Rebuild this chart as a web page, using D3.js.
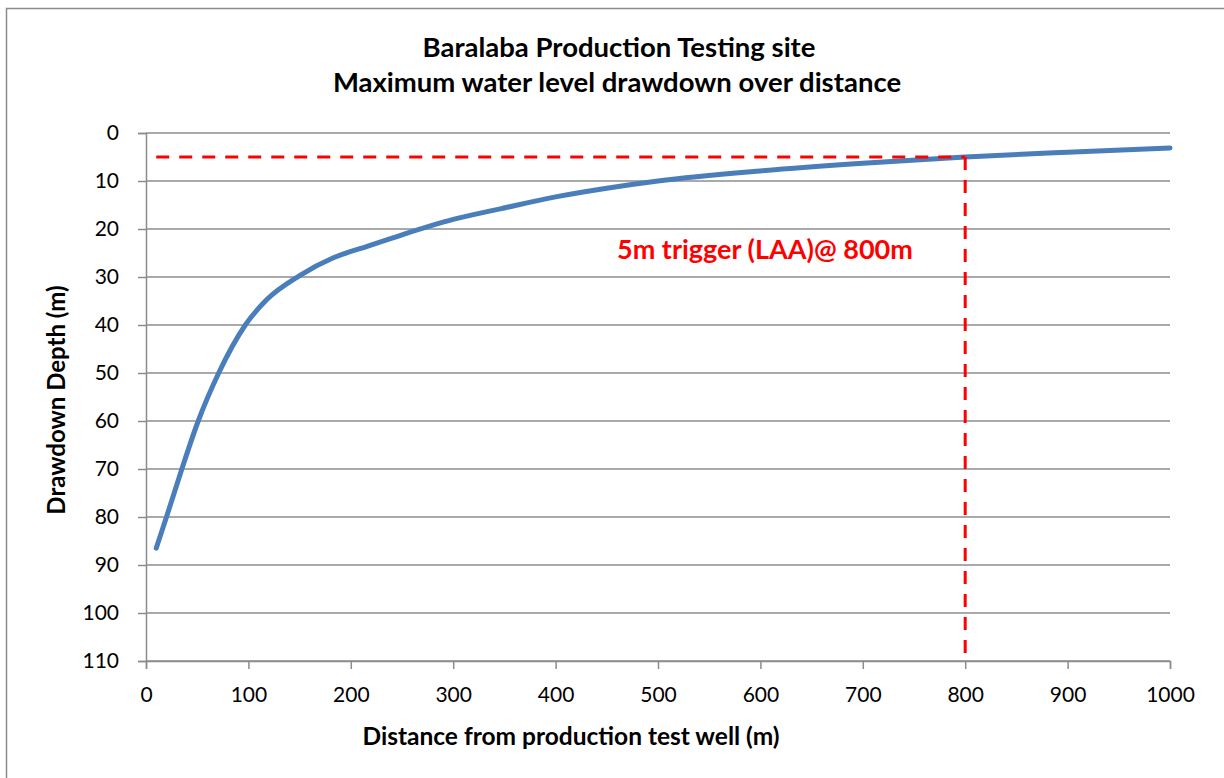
<!DOCTYPE html>
<html>
<head>
<meta charset="utf-8">
<script src="https://cdn.jsdelivr.net/npm/d3@7"></script>
<style>
  body { margin: 0; background: #fff; }
  text { font-family: Lato, "Open Sans", sans-serif; }
</style>
</head>
<body>
<div id="chart-area"></div>
<script>
// data
var distance = [10, 20, 35, 51, 71, 97, 118, 150, 183, 216, 250, 300, 346, 400, 450, 500, 600, 700, 800, 900, 1000];
var drawdown = [86.5, 80, 70, 60, 50, 40, 34.7, 29.7, 26, 23.6, 21.2, 18, 15.8, 13.3, 11.5, 10, 7.9, 6.3, 5, 4, 3.1];
var xTicks = [0, 100, 200, 300, 400, 500, 600, 700, 800, 900, 1000];
var yTicks = [0, 10, 20, 30, 40, 50, 60, 70, 80, 90, 100, 110];
var triggerDepth = 5;
var triggerDist = 800;
var triggerStart = 10;

var margins = { left: 146, right: 54, top: 133, bottom: 117 };
var W = 1224, H = 778;
var width = W - margins.left - margins.right;
var height = H - margins.top - margins.bottom;

var svg = d3.select("#chart-area").append("svg")
    .attr("width", W)
    .attr("height", H);

// chart border
svg.append("rect")
    .attr("x", 6.5).attr("y", 8.5)
    .attr("width", W).attr("height", H)
    .attr("fill", "none")
    .attr("stroke", "#8c8c8c")
    .attr("stroke-width", 1.5);

svg.append("text")
    .attr("x", 619).attr("y", 57)
    .attr("text-anchor", "middle")
    .attr("font-size", "27.5px").attr("font-weight", "bold")
    .text("Baralaba Production Testing site");
svg.append("text")
    .attr("x", 617).attr("y", 92)
    .attr("text-anchor", "middle")
    .attr("font-size", "27.5px").attr("font-weight", "bold")
    .text("Maximum water level drawdown over distance");

var g = svg.append("g")
    .attr("transform", "translate(" + margins.left + "," + margins.top + ")");

var x = d3.scaleLinear().domain([0, 1000]).range([0, width]);
var y = d3.scaleLinear().domain([0, 110]).range([0, height]);

// gridlines
g.selectAll(".grid").data(yTicks).enter().append("line")
    .attr("class", "grid")
    .attr("x1", 0).attr("x2", width)
    .attr("y1", function(d){ return y(d); })
    .attr("y2", function(d){ return y(d); })
    .attr("stroke", "#8c8c8c")
    .attr("stroke-width", 1.5);

var yAxis = g.append("g")
    .call(d3.axisLeft(y).tickValues(yTicks).tickSize(8).tickPadding(19).tickFormat(d3.format("d")));
var xAxis = g.append("g")
    .attr("transform", "translate(0," + height + ")")
    .call(d3.axisBottom(x).tickValues(xTicks).tickSize(8).tickPadding(18).tickFormat(d3.format("d")));

[xAxis, yAxis].forEach(function(a){
    a.select(".domain").attr("stroke", "#8c8c8c").attr("stroke-width", 1.5);
    a.selectAll(".tick line").attr("stroke", "#8c8c8c").attr("stroke-width", 1.5);
    a.selectAll(".tick text")
        .attr("font-size", "21px")
        .attr("fill", "#000")
        .style("font-family", "Lato, sans-serif");
});

// curve
var line = d3.line()
    .x(function(d){ return x(d[0]); })
    .y(function(d){ return y(d[1]); })
    .curve(d3.curveMonotoneX);

g.append("path")
    .datum(d3.zip(distance, drawdown))
    .attr("d", line)
    .attr("fill", "none")
    .attr("stroke", "#4a7ebb")
    .attr("stroke-width", 5)
    .attr("stroke-linecap", "round");

// 5m trigger lines
g.append("line")
    .attr("x1", x(triggerStart)).attr("x2", x(triggerDist))
    .attr("y1", y(triggerDepth)).attr("y2", y(triggerDepth))
    .attr("stroke", "#ff0000").attr("stroke-width", 3)
    .attr("stroke-dasharray", "13,10");
g.append("line")
    .attr("x1", x(triggerDist)).attr("x2", x(triggerDist))
    .attr("y1", y(triggerDepth)).attr("y2", y(110))
    .attr("stroke", "#ff0000").attr("stroke-width", 3)
    .attr("stroke-dasharray", "13,10");

svg.append("text")
    .attr("x", 617).attr("y", 259)
    .attr("font-size", "27px").attr("font-weight", "bold")
    .attr("fill", "#ff0000")
    .text("5m trigger (LAA)@ 800m");

// axis titles
svg.append("text")
    .attr("x", 571).attr("y", 745)
    .attr("text-anchor", "middle")
    .attr("font-size", "24.5px").attr("font-weight", "bold")
    .text("Distance from production test well (m)");

svg.append("text")
    .attr("transform", "translate(65,400) rotate(-90)")
    .attr("text-anchor", "middle")
    .attr("font-size", "24px").attr("font-weight", "bold")
    .text("Drawdown Depth (m)");
</script>
</body>
</html>
